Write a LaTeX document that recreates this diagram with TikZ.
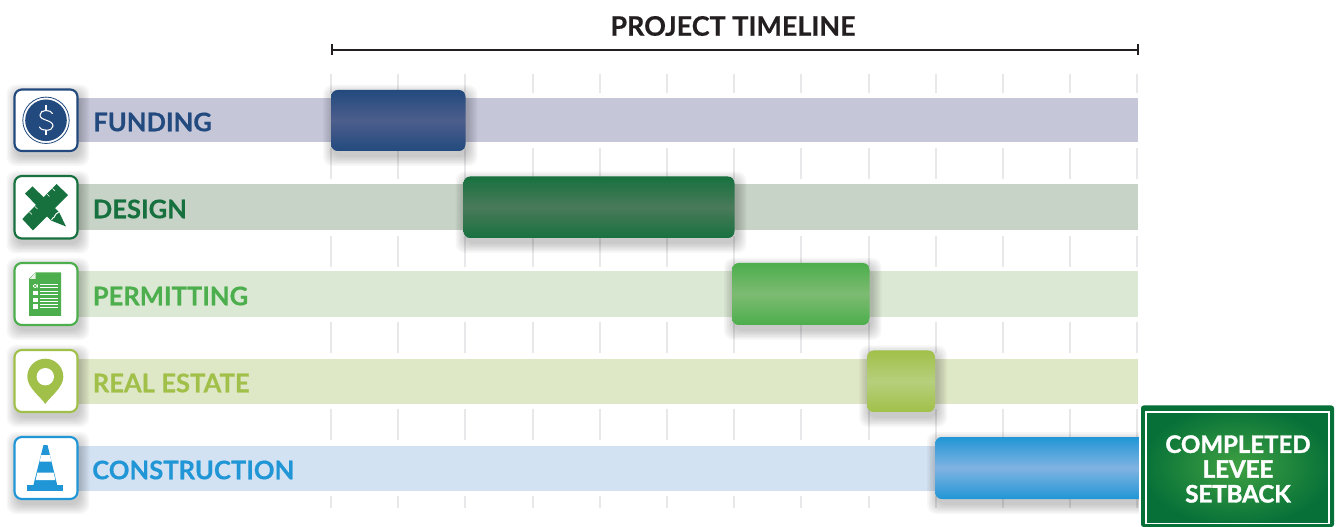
\documentclass[tikz,border=0pt]{standalone}
\usepackage{fontspec}
\setmainfont{Lato}
\newfontfamily\rowfont[BoldFeatures={FakeBold=0.5}]{Lato}
\newfontfamily\signfont[BoldFeatures={FakeBold=1.6}]{Lato}
\usetikzlibrary{calc}
\definecolor{cnavy}{HTML}{234A7E}\definecolor{cnavym}{HTML}{4C5E8C}\definecolor{cnavyb}{HTML}{C5C7D9}
\definecolor{cgreen}{HTML}{17713F}\definecolor{cgreenm}{HTML}{4A7A5A}\definecolor{cgreenb}{HTML}{C8D3C7}
\definecolor{cperm}{HTML}{4CAE4C}\definecolor{cpermm}{HTML}{7DBB72}\definecolor{cpermb}{HTML}{DBE9D4}
\definecolor{cre}{HTML}{A1C04A}\definecolor{crem}{HTML}{B6CF7C}\definecolor{creb}{HTML}{DFE8C6}
\definecolor{cblue}{HTML}{2196D6}\definecolor{cbluem}{HTML}{80B3E2}\definecolor{cblueb}{HTML}{D3E2F2}
\definecolor{ctick}{HTML}{E8E8EA}\definecolor{cink}{HTML}{231F20}
\definecolor{csignin}{HTML}{3FA142}\definecolor{csignout}{HTML}{067038}
\tikzset{
  ticksty/.style={draw=ctick,line width=1.5pt},
  rowlabel/.style={anchor=west,inner sep=0pt,font=\rowfont\fontsize{19.2pt}{22pt}\selectfont\bfseries},
  iconbox/.style={draw=#1,fill=white,line width=1.6pt,rounded corners=5.5pt},
  wline/.style={draw=white,line width=0.45pt},
}
\newcommand{\softshadow}[4]{% x1 y1 x2 y2
  \foreach \e in {10,8.5,7,5.5,4,2.5,1}{
    \fill[black,opacity=0.032,rounded corners=7pt]
      ({#1+2-\e},{#2+5-\e}) rectangle ({#3+2+\e},{#4+5+\e});
  }}
\newcommand{\gantt}[6]{% x1 y1 x2 y2 edge mid
  \softshadow{#1}{#2}{#3}{#4}
  \path[rounded corners=5pt,top color=#5,bottom color=#5,middle color=#6] (#1,#2) rectangle (#3,#4);}
\newcommand{\iconbg}[3]{% y1 y2 colour
  \softshadow{14.5}{#1}{77.5}{#2}
  \path[iconbox=#3] (14.5,#1) rectangle (77.5,#2);}
\begin{document}
\begin{tikzpicture}[x=0.75pt,y=-0.75pt]
\useasboundingbox (0,0) rectangle (1336,527);
\clip (0,0) rectangle (1336,527);
\fill[white] (0,0) rectangle (1336,527);
% ticks
\foreach \k in {0,...,12}{
  \pgfmathsetmacro{\xx}{331+67.2*\k}
  \foreach \a/\b in {74/93,148/179,236/267,322/353,409/440,496/508}{
    \draw[ticksty] (\xx,\a) -- (\xx,\b);
  }
}
% title
\node[inner sep=0pt,font=\rowfont\fontsize{20.2pt}{22pt}\selectfont\bfseries,text=cink] (title) at (733,26) {PROJECT TIMELINE};
\coordinate (tl) at (331.5,50); \coordinate (tr) at (1138,50);
\draw[cink,line width=1.5pt] (tl) -- (tr);
\draw[cink,line width=1.5pt] ($(tl)+(0,-5.5)$) -- ($(tl)+(0,5.5)$);
\draw[cink,line width=1.5pt] ($(tr)+(0,-5.5)$) -- ($(tr)+(0,5.5)$);
% bands
\fill[cnavyb] (70,98) rectangle (1137.5,142.5);
\fill[cgreenb] (70,184.5) rectangle (1137.5,230);
\fill[cpermb] (70,271.5) rectangle (1137.5,317);
\fill[creb] (70,359) rectangle (1137.5,404);
\fill[cblueb] (70,446) rectangle (1137.5,491);
% gantt bars
\gantt{331}{90}{465.5}{151}{cnavy}{cnavym}
\gantt{463.5}{176.5}{734.5}{238}{cgreen}{cgreenm}
\gantt{732}{263}{869.5}{325}{cperm}{cpermm}
\gantt{867}{350.5}{935}{412}{cre}{crem}
\gantt{935}{437}{1146}{499}{cblue}{cbluem}
% sign
\fill[white,rounded corners=3pt] (1139,404) rectangle (1336,530);
\path[rounded corners=2pt,inner color=csignin,outer color=csignout] (1141,405.5) rectangle (1334,527);
\draw[white,line width=1pt] (1146,412) rectangle (1329,523.5);
\node[align=center,text=white,inner sep=0pt,font=\signfont\fontsize{18pt}{18.6pt}\selectfont\bfseries] (signtext) at (1238,469) {COMPLETED\\LEVEE\\SETBACK};
% icon boxes
\iconbg{89.5}{151}{cnavy}
\iconbg{176}{238.5}{cgreen}
\iconbg{263}{325}{cperm}
\iconbg{350}{412}{cre}
\iconbg{437}{499}{cblue}
% labels
\node[rowlabel,text=cnavy] (funding) at (93,122) {FUNDING};
\node[rowlabel,text=cgreen] (design) at (92.5,209) {DESIGN};
\node[rowlabel,text=cperm] (permitting) at (92.5,296) {PERMITTING};
\node[rowlabel,text=cre] (realestate) at (92.5,383) {REAL ESTATE};
\node[rowlabel,text=cblue] (construction) at (92,470) {CONSTRUCTION};
% funding icon
\draw[cnavy,line width=0.6pt] (46,120.3) circle[radius=23.2];
\fill[cnavy] (46,120.3) circle[radius=20.8];
\draw[white,line width=0.8pt,line cap=round]
  (52.5,113.5) .. controls (51,109.5) and (40,109) .. (40,115)
  .. controls (40,121) and (53,119.5) .. (53,126)
  .. controls (53,131.5) and (41,131.5) .. (39.5,127);
\draw[white,line width=0.8pt] (46,105) -- (46,110.5) (46,130) -- (46,135.5);
% design icon
\fill[cgreen] (56.5,184) -- (68,195) -- (33,230.5) -- (22.3,219) -- cycle;
\fill[cgreen] (25,193.5) -- (32.5,186.5) -- (59,212) -- (66,226.5) -- (51,220.5) -- cycle;
\draw[wline] (47,194) -- (49.5,196.5) (52.5,188.5) -- (55,191) (29.5,212) -- (32,214.5) (35,206.5) -- (37.5,209);
\draw[white,line width=0.7pt] (51.5,220) .. controls (53,216) and (56,218) .. (55,215.5) .. controls (55,213.5) and (57,214) .. (59,212);
% permitting icon
\fill[cperm] (35.7,272.3) -- (61,272.3) -- (61,316) -- (29,316) -- (29,279) -- cycle;
\fill[cpermb!60!white] (35.7,272.3) -- (35.7,279) -- (29.8,279) -- cycle;
\foreach \yy in {286,293,300,306.5}{
  \fill[white] (33,{\yy-2.2}) rectangle (37.5,{\yy+2.2});
  \draw[wline] (40,{\yy-2}) -- (58,{\yy-2}) (40,{\yy+1}) -- (58,{\yy+1});
}
\draw[cperm,line width=0.5pt] (33,283.8) -- (37.5,288.2) (37.5,283.8) -- (33,288.2);
% real estate icon
\fill[cre] (45.3,404) .. controls (41,397) and (27.3,388) .. (27.3,376.7)
  arc[start angle=180,end angle=360,radius=18]
  .. controls (63.3,388) and (49.6,397) .. (45.3,404) -- cycle;
\fill[white] (45.3,376.7) circle[radius=8.7];
% construction icon
\fill[cblue] (27.3,485) rectangle (63.3,490.7);
\fill[cblue] (43.5,445) -- (47.5,445) -- (57.3,485.5) -- (33.3,485.5) -- cycle;
\fill[white] (41.2,455) -- (49.8,455) -- (51.4,461.7) -- (39.6,461.7) -- cycle;
\fill[white] (37.4,472.5) -- (53.6,472.5) -- (55.3,480) -- (35.7,480) -- cycle;
\end{tikzpicture}
\end{document}
